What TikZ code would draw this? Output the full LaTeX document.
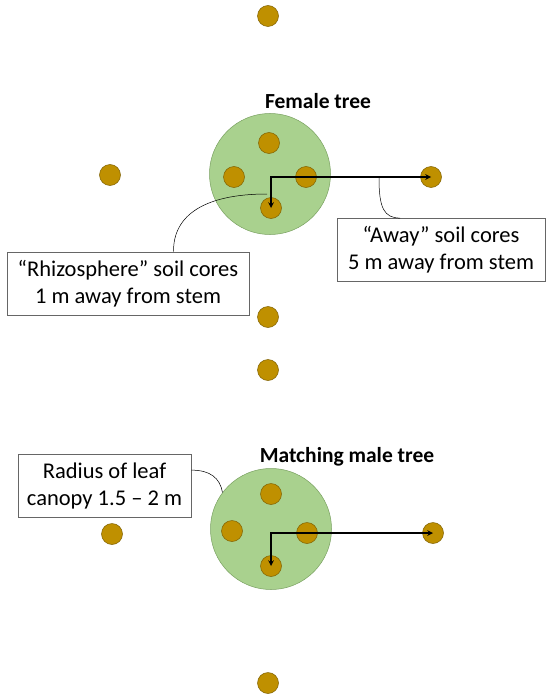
\documentclass[tikz,border=0pt]{standalone}
\usepackage{fontspec}
\setmainfont{Carlito}
\usetikzlibrary{arrows}
\definecolor{coregold}{RGB}{191,144,0}
\definecolor{coreedge}{RGB}{127,96,0}
\definecolor{leafgreen}{RGB}{169,209,142}
\definecolor{leafedge}{RGB}{120,160,95}

\begin{document}
\begin{tikzpicture}[x=1pt, y=-1pt, >=stealth, line width=0.5pt,
		core/.style={circle, draw=coreedge, fill=coregold, minimum size=21pt, inner sep=0pt},
		canopy/.style={circle, draw=leafedge, fill=leafgreen, minimum size=121pt, inner sep=0pt},
		callout/.style={draw=gray!80!black, line width=0.8pt, fill=white, align=center, inner sep=0pt,
			font=\fontsize{22.5}{27}\selectfont, minimum height=63pt},
		treename/.style={font=\fontsize{21.5}{25}\selectfont\bfseries}]
		\useasboundingbox (0,0) rectangle (550,698);

		% female tree
		\node [canopy] at (270,174) (fcanopy) {};
		\node [treename] at (318,101) (ftitle) {Female tree};
		\node [core] at (268,16) (fnorth) {};
		\node [core] at (110,175) (fwest) {};
		\node [core] at (431,177) (feast) {};
		\node [core] at (268,317) (fsouth) {};
		\node [core] at (269,143) (ftop) {};
		\node [core] at (234,177) (fleft) {};
		\node [core] at (306,177) (fright) {};
		\node [core] at (271,208) (fbottom) {};

		\draw [<->, line width=1.5pt] (fbottom.center) |- (feast.center);

		\node [callout, minimum width=242pt] at (128,283.5) (rhizo)
			{“Rhizosphere” soil cores\\1 m away from stem};
		\node [callout, minimum width=208pt] at (441,250) (away)
			{“Away” soil cores\\5 m away from stem};
		\coordinate (rhizotip) at (267,194);
		\coordinate (awaytip) at (379,178);
		\draw (rhizotip) .. controls (205,194) and (173,215) .. (rhizo.35);
		\draw (awaytip) .. controls (379,208) and (384,218) .. (away.142);

		% male tree
		\node [core] at (268,370) (mnorth) {};
		\node [canopy] at (271,529) (mcanopy) {};
		\node [treename] at (347,457) (mtitle) {Matching male tree};
		\node [core] at (112,534) (mwest) {};
		\node [core] at (433,533) (meast) {};
		\node [core] at (268,683) (msouth) {};
		\node [core] at (271,494) (mtop) {};
		\node [core] at (232,531) (mleft) {};
		\node [core] at (307,533) (mright) {};
		\node [core] at (271,566) (mbottom) {};

		\draw [<->, line width=1.5pt] (mbottom.center) |- (meast.center);

		\node [callout, minimum width=173pt] at (104.5,485.5) (radius)
			{Radius of leaf\\canopy 1.5 – 2 m};
		\draw (radius.10) .. controls (210,470) and (220,478) .. (mcanopy.143);
	\end{tikzpicture}
\end{document}
